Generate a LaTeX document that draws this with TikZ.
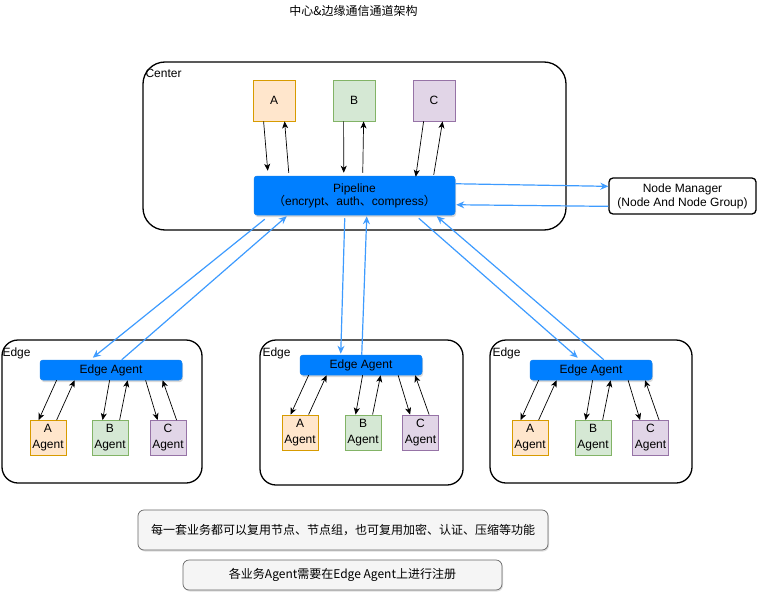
\documentclass[tikz,border=0pt]{standalone}
\usepackage{fontspec}
\setmainfont{Liberation Sans}
\newfontfamily\cjk{Noto Sans CJK SC}
\usetikzlibrary{calc,arrows.meta,shadows}
\definecolor{pipeblue}{HTML}{007FFF}
\definecolor{linkblue}{HTML}{3D9BFF}
\definecolor{afill}{HTML}{FFE6CC}\definecolor{adraw}{HTML}{D79B00}
\definecolor{bfill}{HTML}{D5E8D4}\definecolor{bdraw}{HTML}{82B366}
\definecolor{cfill}{HTML}{E1D5E7}\definecolor{cdraw}{HTML}{9673A6}
\definecolor{notefill}{HTML}{F5F5F5}\definecolor{notedraw}{HTML}{666666}
\begin{document}
\begin{tikzpicture}[x=1pt,y=-1pt,font=\fontsize{12}{15}\selectfont,
  bigbox/.style={draw=black,line width=1.3pt,rounded corners=22pt,inner sep=0pt},
  mgrbox/.style={draw=black,line width=1.3pt,rounded corners=4pt,inner sep=0pt,align=center},
  svc/.style={draw=#1draw,fill=#1fill,line width=0.8pt,inner sep=0pt,minimum width=42pt,minimum height=41pt},
  agentbox/.style={draw=#1draw,fill=#1fill,line width=0.8pt,inner sep=0pt,minimum width=36pt,minimum height=35pt,align=center,font=\fontsize{12}{16}\selectfont},
  bluebar/.style={fill=pipeblue,draw=pipeblue!85!gray,line width=0.5pt,rounded corners=3pt,inner sep=0pt,align=center,
    drop shadow={shadow xshift=1pt,shadow yshift=-2pt,opacity=0.3}},
  note/.style={fill=notefill,draw=notedraw,line width=0.7pt,rounded corners=6pt,inner sep=0pt,
    drop shadow={shadow xshift=1pt,shadow yshift=-1.5pt,opacity=0.25}},
  lbl/.style={inner sep=0pt,anchor=west},
  blk/.style={-{Stealth[length=7pt,width=6pt,inset=2pt]},line width=0.7pt},
  lnk/.style={draw=linkblue,line width=1.2pt,-{Stealth[open,length=8pt,width=7pt]}}]
\useasboundingbox (0,0) rectangle (763,594);

% title
\node[inner sep=0pt] (title) at (353.5,11) {\cjk 中心\&边缘通信通道架构};

% center
\node[bigbox,minimum width=423pt,minimum height=168pt] (center) at (354.5,146) {};
\node[lbl] (centerlbl) at ($(center.north west)+(3,12)$) {Center};
\node[svc=a] (A) at (274,100.5) {A};
\node[svc=b] (B) at (354,100.5) {B};
\node[svc=c] (C) at (434,100.5) {C};
\node[bluebar,minimum width=201pt,minimum height=39pt] (pipe) at (354.5,195.5)
  {\raisebox{-1pt}{Pipeline}\\[-1pt]{\cjk （}encrypt{\cjk 、}auth{\cjk 、}compress{\cjk ）}};

\draw[blk] ($(A.south west)+(11,0)$) -- ($(pipe.north west)+(14,-5)$);
\draw[blk] ($(pipe.north west)+(35,-3)$) -- ($(A.south west)+(32,0)$);
\draw[blk] ($(B.south west)+(11,0)$) -- ($(pipe.north west)+(90,-3)$);
\draw[blk] ($(pipe.north west)+(109,-3)$) -- ($(B.south west)+(31,0)$);
\draw[blk] ($(C.south west)+(11,0)$) -- ($(pipe.north west)+(162,1)$);
\draw[blk] ($(pipe.north west)+(180,-1)$) -- ($(C.south west)+(30,0)$);

% node manager
\node[mgrbox,minimum width=147pt,minimum height=36pt] (nm) at (682.5,196)
  {Node Manager\\[-1pt](Node And Node Group)};
\draw[lnk] ($(pipe.north east)+(0,8)$) -- ($(nm.north west)+(0,9)$);
\draw[lnk] ($(nm.north west)+(0,29)$) -- ($(pipe.north east)+(1,29)$);

% edges
\node[bigbox,rounded corners=16pt,minimum width=200pt,minimum height=143pt] (edge1) at (102,411.5) {};
\node[bigbox,rounded corners=16pt,minimum width=203pt,minimum height=145pt] (edge2) at (361.5,412.5) {};
\node[bigbox,rounded corners=16pt,minimum width=202pt,minimum height=143pt] (edge3) at (591,411.5) {};
\node[lbl] (e1lbl) at ($(edge1.north west)+(1,14)$) {Edge};
\node[lbl] (e2lbl) at ($(edge2.north west)+(3,14)$) {Edge};
\node[lbl] (e3lbl) at ($(edge3.north west)+(3,14)$) {Edge};

\node[bluebar,minimum width=142pt,minimum height=20pt] (ea1) at (111,370) {Edge Agent};
\node[bluebar,minimum width=122pt,minimum height=20pt] (ea2) at (361,365) {Edge Agent};
\node[bluebar,minimum width=122pt,minimum height=20pt] (ea3) at (591,370) {Edge Agent};

\node[agentbox=a] (a1) at (48,438) {A\\Agent};
\node[agentbox=b] (b1) at (110,438) {B\\Agent};
\node[agentbox=c] (c1) at (168,438) {C\\Agent};
\node[agentbox=a] (a2) at (300,432.5) {A\\Agent};
\node[agentbox=b] (b2) at (363,432.5) {B\\Agent};
\node[agentbox=c] (c2) at (420.5,432.5) {C\\Agent};
\node[agentbox=a] (a3) at (530,438) {A\\Agent};
\node[agentbox=b] (b3) at (593,438) {B\\Agent};
\node[agentbox=c] (c3) at (650.5,438) {C\\Agent};

\foreach \e in {1,2,3}{
  \foreach \ag/\dsx/\dex/\usx/\uex in {a/27/9/27/45, b/18/11/28/36, c/-4/8/27/13}{
    \coordinate (ds) at ($(\ag\e.north west)+(\dsx,0)$);
    \coordinate (de) at ($(\ag\e.north west)+(\dex,0)$);
    \coordinate (us) at ($(\ag\e.north west)+(\usx,0)$);
    \coordinate (ue) at ($(\ag\e.north west)+(\uex,0)$);
    \draw[blk] (ds |- ea\e.south) -- (de);
    \draw[blk] (us) -- (ue |- ea\e.south);
  }
}

% center <-> edges
\draw[lnk] ($(pipe.south west)+(11,4)$) -- ($(ea1.north west)+(53,-2)$);
\draw[lnk] ($(ea1.north west)+(82,0)$) -- ($(pipe.south west)+(33,1)$);
\draw[lnk] ($(pipe.south west)+(91,3)$) -- ($(ea2.north west)+(41,-1)$);
\draw[lnk] ($(ea2.north west)+(62,0)$) -- ($(pipe.south west)+(113,1)$);
\draw[lnk] ($(pipe.south west)+(165,3)$) -- ($(ea3.north west)+(48,-2)$);
\draw[lnk] ($(ea3.north west)+(74,0)$) -- ($(pipe.south west)+(183,1)$);

% notes
\node[note,minimum width=410pt,minimum height=40pt] (note1) at (343,530)
  {\cjk 每一套业务都可以复用节点、节点组，也可复用加密、认证、压缩等功能};
\node[note,minimum width=319pt,minimum height=30pt] (note2) at (342.5,575)
  {\cjk 各业务Agent需要在Edge Agent上进行注册};
\end{tikzpicture}
\end{document}
